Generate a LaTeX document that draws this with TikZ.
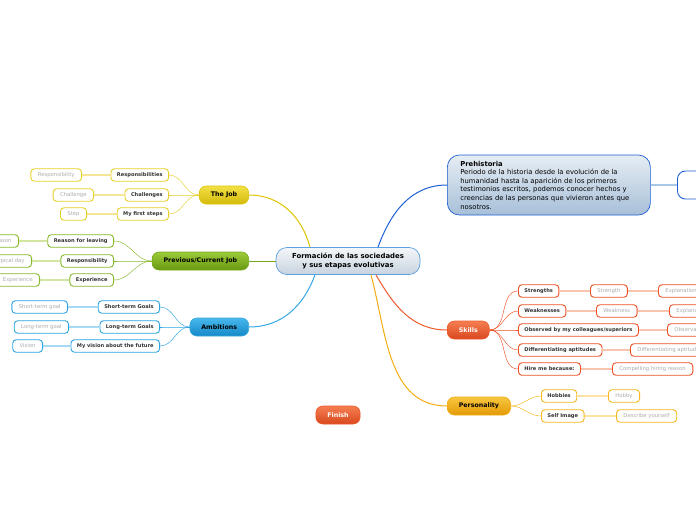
\documentclass[tikz,border=0pt]{standalone}
\usepackage{fontspec}
\setmainfont{DejaVu Sans}
\usepackage{tikz}
\usetikzlibrary{calc}
\definecolor{jobtop}{RGB}{242,224,70}
\definecolor{jobbot}{RGB}{212,186,10}
\definecolor{jobline}{RGB}{222,196,0}
\definecolor{jobsub}{RGB}{230,208,40}
\definecolor{jobleaf}{RGB}{244,230,150}
\definecolor{prevtop}{RGB}{156,203,58}
\definecolor{prevbot}{RGB}{104,152,16}
\definecolor{prevline}{RGB}{118,168,26}
\definecolor{prevsub}{RGB}{134,184,42}
\definecolor{prevleaf}{RGB}{210,229,162}
\definecolor{ambtop}{RGB}{72,184,236}
\definecolor{ambbot}{RGB}{20,136,200}
\definecolor{ambline}{RGB}{52,168,224}
\definecolor{ambsub}{RGB}{42,164,226}
\definecolor{ambleaf}{RGB}{166,218,244}
\definecolor{skilltop}{RGB}{245,126,82}
\definecolor{skillbot}{RGB}{217,72,30}
\definecolor{skillline}{RGB}{238,90,42}
\definecolor{skillsub}{RGB}{238,80,38}
\definecolor{skillleaf}{RGB}{249,196,174}
\definecolor{perstop}{RGB}{248,198,64}
\definecolor{persbot}{RGB}{227,154,6}
\definecolor{persline}{RGB}{242,172,16}
\definecolor{perssub}{RGB}{245,184,28}
\definecolor{persleaf}{RGB}{251,227,162}
\definecolor{prehline}{RGB}{31,95,212}
\definecolor{prehtop}{RGB}{230,237,244}
\definecolor{prehbot}{RGB}{167,191,216}
\definecolor{prehlink}{RGB}{168,200,232}
\definecolor{centop}{RGB}{244,247,250}
\definecolor{cenbot}{RGB}{200,211,222}
\definecolor{cenline}{RGB}{90,160,224}
\definecolor{subtext}{RGB}{50,50,50}
\definecolor{leaftext}{RGB}{172,172,172}
\tikzset{
  topic/.style={rectangle, rounded corners=7pt, minimum height=18pt,
    inner xsep=11.5pt, inner ysep=0pt, line width=0.6pt,
    font=\fontsize{6.3}{7}\selectfont\bfseries},
  jobtopic/.style={topic, draw=jobline, top color=jobtop, bottom color=jobbot},
  prevtopic/.style={topic, draw=prevline, top color=prevtop, bottom color=prevbot},
  ambtopic/.style={topic, draw=ambline, top color=ambtop, bottom color=ambbot},
  skilltopic/.style={topic, draw=skillline, top color=skilltop, bottom color=skillbot, text=white},
  perstopic/.style={topic, draw=persline, top color=perstop, bottom color=persbot},
  subtopic/.style={rectangle, rounded corners=3.5pt, fill=white,
    minimum height=12.5pt, inner xsep=6pt, inner ysep=0pt,
    font=\fontsize{5.1}{6}\selectfont\bfseries, text=subtext, line width=0.9pt},
  leaf/.style={subtopic, inner xsep=7pt, font=\fontsize{5.3}{6}\selectfont, text=leaftext},
  link/.style={line width=1pt},
  sublink/.style={line width=0.45pt},
  leaflink/.style={line width=2pt}
}
\begin{document}
\begin{tikzpicture}[x=1pt, y=-1pt]
  \useasboundingbox (0,0) rectangle (696,520);
  \clip (0,0) rectangle (696,520);

  % central topic
  \node[rectangle, rounded corners=11pt, draw=cenline, top color=centop, bottom color=cenbot,
    line width=0.7pt, minimum width=144pt, minimum height=27pt, align=center,
    font=\fontsize{6.9}{8.4}\selectfont\bfseries] (central) at (348,261)
    {Formación de las sociedades\\y sus etapas evolutivas};

  % main topics
  \node[jobtopic, anchor=east] (job) at (249,195) {The Job};
  \node[prevtopic, anchor=east] (prev) at (249,261) {Previous/Current Job};
  \node[ambtopic, anchor=east] (amb) at (249,327) {Ambitions};
  \node[skilltopic, anchor=west] (skills) at (447,330) {Skills};
  \node[perstopic, anchor=west] (pers) at (447,406) {Personality};
  \node[skilltopic] (finish) at (338,415) {Finish};
  \node[rectangle, rounded corners=12pt, draw=prehline, top color=prehtop, bottom color=prehbot,
    line width=0.7pt, anchor=west, minimum height=60pt, inner xsep=13pt, text width=177pt,
    align=left, font=\fontsize{6.8}{8.6}\selectfont] (preh) at (447,185)
    {\textbf{Prehistoria}\\Periodo de la historia desde la evolución de la\\humanidad hasta la aparición de los primeros\\testimonios escritos, podemos conocer hechos y\\creencias de las personas que vivieron antes que\\nosotros.};
  \node[rectangle, rounded corners=8pt, draw=prehline, fill=white, line width=0.9pt,
    anchor=west, minimum width=40pt, minimum height=28pt] (prehnext) at (677,185) {};

  % The Job
  \node[subtopic, draw=jobsub, anchor=east] (jresp) at (169,175) {Responsibilities};
  \node[subtopic, draw=jobsub, anchor=east] (jchal) at (169,195) {Challenges};
  \node[subtopic, draw=jobsub, anchor=east] (jstep) at (169,214) {My first steps};
  \node[leaf, draw=jobsub, anchor=east] (jrespl) at (82,175) {Responsibility};
  \node[leaf, draw=jobsub, anchor=east] (jchall) at (94,195) {Challenge};
  \node[leaf, draw=jobsub, anchor=east] (jstepl) at (87,214) {Step};

  % Previous/Current Job
  \node[subtopic, draw=prevsub, anchor=east] (preason) at (114,241) {Reason for leaving};
  \node[subtopic, draw=prevsub, anchor=east] (presp) at (114,261) {Responsibility};
  \node[subtopic, draw=prevsub, anchor=east] (pexp) at (114,280) {Experience};
  \node[leaf, draw=prevsub, anchor=east] (preasonl) at (19,241) {Reason};
  \node[leaf, draw=prevsub, anchor=east] (prespl) at (32,261) {Typical day};
  \node[leaf, draw=prevsub, anchor=east] (pexpl) at (40,280) {Experience};

  % Ambitions
  \node[subtopic, draw=ambsub, anchor=east] (ashort) at (160,307) {Short-term Goals};
  \node[subtopic, draw=ambsub, anchor=east] (along) at (160,327) {Long-term Goals};
  \node[subtopic, draw=ambsub, anchor=east] (avision) at (160,346) {My vision about the future};
  \node[leaf, draw=ambsub, anchor=east] (ashortl) at (68,307) {Short-term goal};
  \node[leaf, draw=ambsub, anchor=east] (alongl) at (69,327) {Long-term goal};
  \node[leaf, draw=ambsub, anchor=east] (avisionl) at (43,346) {Vision};

  % Skills
  \node[subtopic, draw=skillsub, anchor=west] (sstr) at (518,291) {Strengths};
  \node[subtopic, draw=skillsub, anchor=west] (sweak) at (518,311) {Weaknesses};
  \node[subtopic, draw=skillsub, anchor=west] (sobs) at (518,330) {Observed by my colleagues/superiors};
  \node[subtopic, draw=skillsub, anchor=west] (sdiff) at (518,350) {Differentiating aptitudes};
  \node[subtopic, draw=skillsub, anchor=west] (shire) at (518,369) {Hire me because:};
  \node[leaf, draw=skillsub, anchor=west] (sstrl) at (590,291) {Strength};
  \node[leaf, draw=skillsub, anchor=west] (sstrx) at (658,291) {Explanation};
  \node[leaf, draw=skillsub, anchor=west] (sweakl) at (596,311) {Weakness};
  \node[leaf, draw=skillsub, anchor=west] (sweakx) at (669,311) {Explanation};
  \node[leaf, draw=skillsub, anchor=west] (sobsl) at (667,330) {Observation};
  \node[leaf, draw=skillsub, anchor=west] (sdiffl) at (630,350) {Differentiating aptitude};
  \node[leaf, draw=skillsub, anchor=west] (shirel) at (612,369) {Compelling hiring reason};

  % Personality
  \node[subtopic, draw=perssub, anchor=west] (phob) at (541,396) {Hobbies};
  \node[subtopic, draw=perssub, anchor=west] (pself) at (541,416) {Self Image};
  \node[leaf, draw=perssub, anchor=west] (phobl) at (608,396) {Hobby};
  \node[leaf, draw=perssub, anchor=west] (pselfl) at (616,416) {Describe yourself};

  % links from the central topic
  \draw[link, color=jobline] ($(central.north)+(-38,0)$) to[out=105, in=0] (job.east);
  \draw[link, color=prevline] (central.west) -- (prev.east);
  \draw[link, color=ambline] ($(central.south)+(-33,0)$) to[out=-110, in=0] (amb.east);
  \draw[link, color=prehline] ($(central.north)+(30,0)$) to[out=70, in=180] (preh.west);
  \draw[link, color=skillline] ($(central.south)+(28,0)$) to[out=-60, in=180] (skills.west);
  \draw[link, color=persline] ($(central.south)+(23,0)$) to[out=-75, in=180] (pers.west);
  \draw[leaflink, color=prehlink] (preh.east) -- (prehnext.west);

  % links to subtopics
  \foreach \s in {jresp, jchal, jstep}
    \draw[sublink, color=jobsub] (job.west) to[out=180, in=0] (\s.east);
  \foreach \s in {preason, presp, pexp}
    \draw[sublink, color=prevsub] (prev.west) to[out=180, in=0] (\s.east);
  \foreach \s in {ashort, along, avision}
    \draw[sublink, color=ambsub] (amb.west) to[out=180, in=0] (\s.east);
  \foreach \s in {sstr, sweak, sobs, sdiff, shire}
    \draw[sublink, color=skillsub] (skills.east) to[out=0, in=180] (\s.west);
  \foreach \s in {phob, pself}
    \draw[sublink, color=perssub] (pers.east) to[out=0, in=180] (\s.west);

  % links to leaves
  \foreach \a/\b in {jresp/jrespl, jchal/jchall, jstep/jstepl}
    \draw[leaflink, color=jobleaf] (\a.west) -- (\b.east);
  \foreach \a/\b in {preason/preasonl, presp/prespl, pexp/pexpl}
    \draw[leaflink, color=prevleaf] (\a.west) -- (\b.east);
  \foreach \a/\b in {ashort/ashortl, along/alongl, avision/avisionl}
    \draw[leaflink, color=ambleaf] (\a.west) -- (\b.east);
  \foreach \a/\b in {sstr/sstrl, sstrl/sstrx, sweak/sweakl, sweakl/sweakx, sobs/sobsl, sdiff/sdiffl, shire/shirel}
    \draw[leaflink, color=skillleaf] (\a.east) -- (\b.west);
  \foreach \a/\b in {phob/phobl, pself/pselfl}
    \draw[leaflink, color=persleaf] (\a.east) -- (\b.west);
\end{tikzpicture}
\end{document}
